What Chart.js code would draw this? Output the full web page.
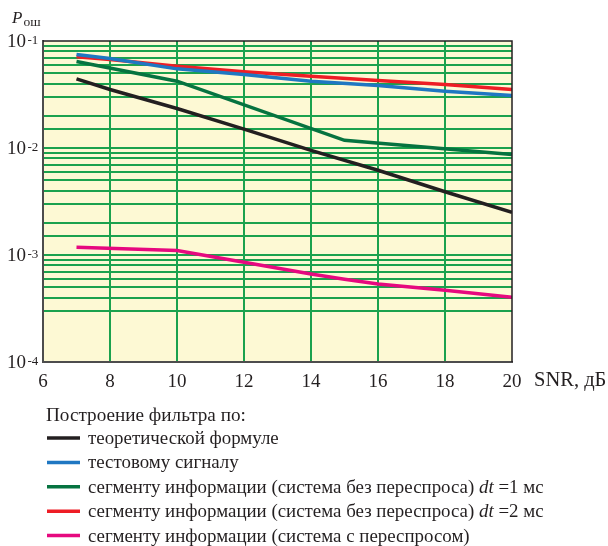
<!DOCTYPE html>
<html>
<head>
<meta charset="utf-8">
<script src="https://cdn.jsdelivr.net/npm/chart.js@4/dist/chart.umd.min.js"></script>
<style>
  html, body { margin: 0; padding: 0; background: #fff; }
  #wrap { width: 608px; height: 546px; }
</style>
</head>
<body>
<div id="wrap"><canvas id="errChart" width="608" height="546"></canvas></div>
<script>
// values
const snrMain = [7, 8, 10, 12, 14, 16, 18, 20];
const theory = [0.0443, 0.0352, 0.0234, 0.0150, 0.0095, 0.0062, 0.0039, 0.0025];
const testSignal = [0.0748, 0.0686, 0.0549, 0.0486, 0.0421, 0.0383, 0.0339, 0.0309];
const segDt2 = [0.0711, 0.0671, 0.0581, 0.0515, 0.0469, 0.0427, 0.0392, 0.0352];
const snrDt1 = [7, 10, 15, 20];
const segDt1 = [0.0643, 0.0421, 0.0118, 0.0087];
const snrRetx = [7, 10, 12, 14, 15, 16, 18, 20];
const segRetx = [0.00118, 0.00110, 0.000855, 0.000664, 0.000593, 0.000535, 0.000468, 0.000402];

const yDecades = [-4, -3, -2, -1];
const xTitle = 'SNR, дБ';
const legendTitle = 'Построение фильтра по:';
const labels = [
    'теоретической формуле',
    'тестовому сигналу',
    'сегменту информации (система без переспроса) *dt* =1 мс',
    'сегменту информации (система без переспроса) *dt* =2 мс',
    'сегменту информации (система с переспросом)'
];
const colors = ['#231f20', '#1f77c2', '#067340', '#ee1d25', '#e6097f'];

const SERIF = '"Liberation Serif", "DejaVu Serif", serif';
const GRID = '#1ba24e';

function pts(xs, ys) {
    return xs.map((x, i) => ({ x: x, y: ys[i] }));
}

const series = [
    pts(snrMain, theory),
    pts(snrMain, testSignal),
    pts(snrDt1, segDt1),
    pts(snrMain, segDt2),
    pts(snrRetx, segRetx)
];

const decor = {
    id: 'decor',
    beforeDraw(chart) {
        const a = chart.chartArea;
        const c = chart.ctx;
        c.save();
        c.fillStyle = '#fdf9d4';
        c.fillRect(a.left, a.top, a.right - a.left, a.bottom - a.top);
        c.restore();
    },
    afterDraw(chart) {
        const a = chart.chartArea;
        const c = chart.ctx;
        const y = chart.scales.y;
        c.save();
        // top and right frame
        c.strokeStyle = '#231f20';
        c.lineWidth = 1.5;
        c.beginPath();
        c.moveTo(a.left, a.top);
        c.lineTo(a.right, a.top);
        c.lineTo(a.right, a.bottom);
        c.stroke();

        c.fillStyle = '#231f20';
        // y tick labels 10^n
        yDecades.forEach(e => {
            const py = y.getPixelForValue(Math.pow(10, e));
            c.font = '19px ' + SERIF;
            c.textAlign = 'right';
            c.textBaseline = 'alphabetic';
            c.fillText('10', 26, py + 5.5);
            c.font = '13px ' + SERIF;
            c.textAlign = 'left';
            c.fillText(String(e), 27.5, py + 2.7);
        });

        // axis titles
        c.textAlign = 'left';
        c.textBaseline = 'alphabetic';
        c.font = 'italic 17px ' + SERIF;
        c.fillText('P', 12, 22.7);
        c.font = '13.5px ' + SERIF;
        c.fillText('ош', 23.5, 25.7);
        c.font = '20.5px ' + SERIF;
        c.fillText(xTitle, 534, 386);

        // legend
        c.font = '19.2px ' + SERIF;
        c.fillText(legendTitle, 46, 421);
        labels.forEach((lab, i) => {
            const cy = 438 + i * 24.4;
            c.strokeStyle = colors[i];
            c.lineWidth = 3.5;
            c.beginPath();
            c.moveTo(47, cy);
            c.lineTo(80, cy);
            c.stroke();
            c.textBaseline = 'middle';
            let tx = 88;
            lab.split('*').forEach((part, k) => {
                c.font = (k % 2 ? 'italic ' : '') + '18.9px ' + SERIF;
                c.fillText(part, tx, cy + 1);
                tx += c.measureText(part).width;
            });
        });
        c.restore();
    }
};

new Chart(document.getElementById('errChart'), {
    type: 'line',
    data: {
        datasets: series.map((d, i) => ({
            label: labels[i].replace(/\*/g, ''),
            data: d,
            borderColor: colors[i],
            backgroundColor: colors[i],
            borderWidth: 3.5,
            pointRadius: 0,
            tension: 0,
            fill: false
        }))
    },
    options: {
        responsive: false,
        animation: false,
        layout: { padding: { top: 41, right: 96, bottom: 0, left: 0 } },
        plugins: {
            legend: { display: false },
            tooltip: { enabled: false }
        },
        scales: {
            x: {
                type: 'linear',
                min: 6,
                max: 20,
                afterFit(s) { s.height = 184; },
                ticks: {
                    stepSize: 2,
                    padding: 9,
                    color: '#231f20',
                    font: { family: SERIF, size: 19 }
                },
                grid: {
                    drawTicks: false,
                    lineWidth: 2,
                    color: ctx => (ctx.tick && (ctx.tick.value === 6 || ctx.tick.value === 20)) ? 'rgba(0,0,0,0)' : GRID
                },
                border: { display: true, color: '#4d4d4d', width: 2 }
            },
            y: {
                type: 'logarithmic',
                min: 1e-4,
                max: 1e-1,
                afterFit(s) { s.width = 43; },
                ticks: { display: false, autoSkip: false },
                grid: {
                    drawTicks: false,
                    lineWidth: 2,
                    color: ctx => {
                        const v = ctx.tick ? ctx.tick.value : 0;
                        if (Math.abs(v - 2e-4) < 1e-9 || Math.abs(v - 1e-4) < 1e-9 || Math.abs(v - 0.1) < 1e-7) return 'rgba(0,0,0,0)';
                        return GRID;
                    }
                },
                border: { display: true, color: '#4d4d4d', width: 2 }
            }
        }
    },
    plugins: [decor]
});
</script>
</body>
</html>
